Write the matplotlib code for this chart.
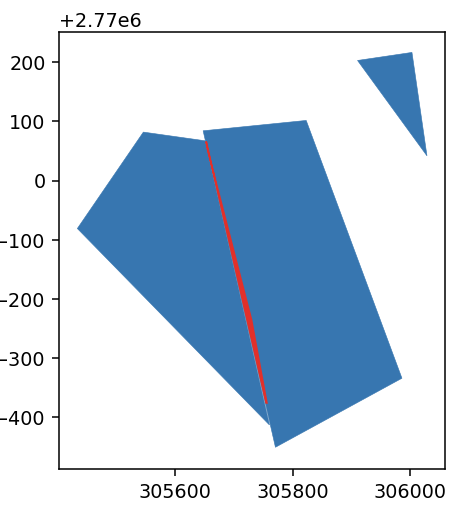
import matplotlib
matplotlib.use("Agg")
import matplotlib.pyplot as plt
from matplotlib.patches import Polygon

# polygon vertices (easting, northing)
west_x = [305434.5, 305546.6, 305651.5, 305760.7]
west_y = [2769919.0, 2770082.0, 2770067.3, 2769586.9]

east_x = [305648.1, 305823.1, 305985.7, 305770.9]
east_y = [2770084.2, 2770101.7, 2769665.9, 2769549.2]

tri_x = [305910.3, 306002.7, 306028.2]
tri_y = [2770203.1, 2770216.7, 2770041.9]

# sliver between the two big parcels
sliver_x = [305653.2, 305755.1, 305756.3, 305730.2, 305655.7]
sliver_y = [2770066.1, 2769624.2, 2769624.2, 2769764.6, 2770052.1]

blue = '#3776b0'
red = '#e2302a'

dpi = 138
fig = plt.figure(figsize=(472.3 / dpi, 508.3 / dpi), dpi=dpi)
ax = fig.add_axes([0.125, 0.0768, 0.8178, 0.8588])

for xs, ys in [(west_x, west_y), (east_x, east_y), (tri_x, tri_y)]:
    ax.add_patch(Polygon(list(zip(xs, ys)), closed=True, facecolor=blue,
                         edgecolor=blue, linewidth=0.3))
ax.add_patch(Polygon(list(zip(sliver_x, sliver_y)), closed=True,
                     facecolor=red, edgecolor=red, linewidth=0.9))

ax.set_xlim(305403.4, 306059.3)
ax.set_ylim(2769512.5, 2770250.5)
ax.set_xticks([305600, 305800, 306000])
ax.set_yticks([2769600, 2769700, 2769800, 2769900, 2770000, 2770100, 2770200])

fig.savefig('out.png', dpi=dpi)
